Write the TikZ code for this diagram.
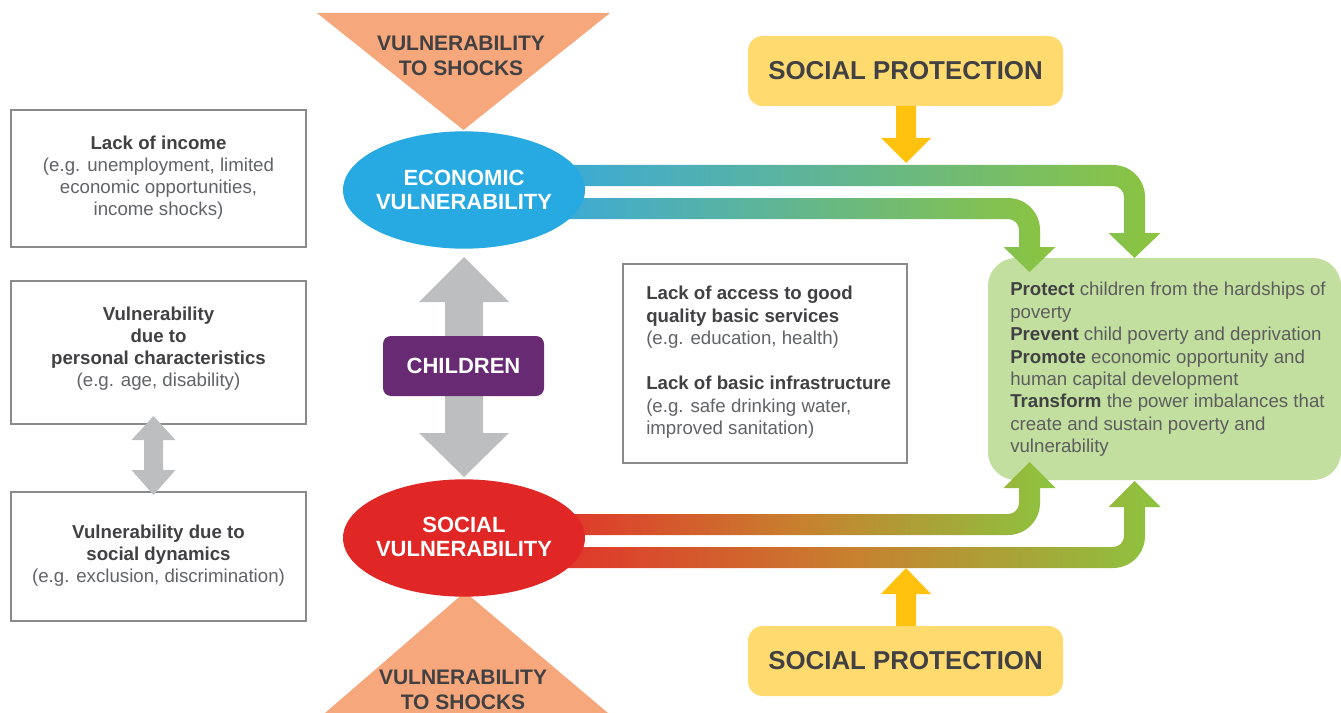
\documentclass[tikz,border=0pt]{standalone}
\usepackage{fontspec}
\setmainfont{Liberation Sans}
\usetikzlibrary{shapes.geometric}
\definecolor{trifill}{HTML}{F6A77B}
\definecolor{ecoblue}{HTML}{27AAE1}
\definecolor{socred}{HTML}{E12726}
\definecolor{childpurple}{HTML}{682A73}
\definecolor{arrowgray}{HTML}{BCBEC0}
\definecolor{spyellow}{HTML}{FFDA6F}
\definecolor{arrowyellow}{HTML}{FFC20E}
\definecolor{outgreen}{HTML}{C2DFA0}
\definecolor{bandgreen}{HTML}{8CC43F}
\definecolor{bandblue}{HTML}{3AA9DC}
\definecolor{bandred}{HTML}{E2302A}
\definecolor{bandorange}{HTML}{C8802F}
\definecolor{darktext}{HTML}{414042}
\definecolor{bodygray}{HTML}{626366}
\definecolor{boxgray}{HTML}{8A8A8A}
\begin{document}
\begin{tikzpicture}[x=0.75pt,y=-0.75pt,
  lbox/.style={draw=boxgray,line width=0.9pt,fill=white,minimum width=221.25pt,inner sep=0pt},
  bodytxt/.style={text=bodygray,font=\fontsize{14}{16.5}\selectfont,align=center,inner sep=0pt},
  titletxt/.style={text=darktext,font=\fontsize{15.75}{18.4}\selectfont\bfseries,align=center,inner sep=0pt},
  elltxt/.style={text=white,font=\fontsize{16.5}{18}\selectfont\bfseries,align=center,inner sep=0pt},
  ell/.style={ellipse,minimum width=181.5pt,minimum height=88pt,inner sep=0pt},
  spbox/.style={fill=spyellow,rounded corners=11pt,minimum width=236.25pt,minimum height=52.5pt,inner sep=0pt,text=darktext,font=\fontsize{19.4}{22}\selectfont\bfseries},
  grayarrow/.style={fill=arrowgray},
  yarrow/.style={fill=arrowyellow},
  bluegrad/.style={left color=bandblue,right color=bandgreen},
  redgrad/.style={left color=bandred,right color=bandgreen,middle color=bandorange},
]
\useasboundingbox (0,0) rectangle (1341,713);

% outcome box
\node[fill=outgreen,rounded corners=21pt,minimum width=264.75pt,minimum height=166.5pt,inner sep=0pt] (outcomes) at (1164.5,369) {};

% triangles
\fill[trifill] (317,13) -- (610,13) -- (463.5,130) -- cycle;
\fill[trifill] (465,592) -- (608,713) -- (325,713) -- cycle;

% gradient bands (top)
\shade[bluegrad] (540,165) -- (1113,165) .. controls (1130.7,165) and (1145,179.3) .. (1145,197) -- (1145,233) -- (1160.5,233) -- (1134.5,258) -- (1108.5,233) -- (1124,233) -- (1124,197) .. controls (1124,190.9) and (1119.1,186) .. (1113,186) -- (540,186) -- cycle;
\shade[bluegrad] (540,198) -- (1008,198) .. controls (1025.7,198) and (1040,212.3) .. (1040,230) -- (1040,247) -- (1055.5,247) -- (1029.5,272) -- (1003.5,247) -- (1019,247) -- (1019,230) .. controls (1019,223.9) and (1014.1,219) .. (1008,219) -- (540,219) -- cycle;
% gradient bands (bottom)
\shade[redgrad] (540,535) -- (1008,535) .. controls (1025.7,535) and (1040,520.7) .. (1040,503) -- (1040,488) -- (1055.5,488) -- (1029.5,462) -- (1003.5,488) -- (1019,488) -- (1019,503) .. controls (1019,509.1) and (1014.1,514) .. (1008,514) -- (540,514) -- cycle;
\shade[redgrad] (540,568) -- (1113,568) .. controls (1130.7,568) and (1145,553.7) .. (1145,536) -- (1145,507) -- (1160.5,507) -- (1134.5,481) -- (1108.5,507) -- (1124,507) -- (1124,536) .. controls (1124,542.1) and (1119.1,547) .. (1113,547) -- (540,547) -- cycle;

% triangle texts
\node[titletxt] (shocktop) at (461,56) {VULNERABILITY\\TO SHOCKS};
\node[titletxt] (shockbot) at (463,690) {VULNERABILITY\\TO SHOCKS};

% ellipses
\node[ell,fill=ecoblue] (eco) at (464,190) {};
\node[elltxt] (ecotxt) at (464,190) {ECONOMIC\\VULNERABILITY};
\node[ell,fill=socred] (soc) at (464,538) {};
\node[elltxt] (soctxt) at (464,537) {SOCIAL\\VULNERABILITY};

% central gray double arrow
\fill[grayarrow] (464,257) -- (509,302) -- (483,302) -- (483,433) -- (509,433) -- (464,477) -- (419,433) -- (445,433) -- (445,302) -- (419,302) -- cycle;
\node[fill=childpurple,rounded corners=6pt,minimum width=120.75pt,minimum height=45pt,inner sep=0pt,text=white,font=\fontsize{16.5}{18}\selectfont\bfseries] (children) at (463.5,366) {CHILDREN};

% left boxes
\node[lbox,minimum height=102.75pt] (income) at (158.5,178.5) {};
\node[bodytxt] (incometxt) at (158.5,178) {\textbf{\color{darktext}Lack of income}\\(e.g. unemployment, limited\\economic opportunities,\\income shocks)};
\node[lbox,minimum height=107.25pt] (personal) at (158.5,352.5) {};
\node[lbox,minimum height=96.75pt] (socdyn) at (158.5,556.5) {};
\fill[grayarrow] (153.5,416) -- (175.5,440) -- (163,440) -- (163,470) -- (175.5,470) -- (153.5,495) -- (131.5,470) -- (144,470) -- (144,440) -- (131.5,440) -- cycle;
\node[bodytxt] (personaltxt) at (158.5,349) {\textbf{\color{darktext}Vulnerability}\\\textbf{\color{darktext}due to}\\\textbf{\color{darktext}personal characteristics}\\(e.g. age, disability)};
\node[bodytxt] (socdyntxt) at (158.5,555.5) {\textbf{\color{darktext}Vulnerability due to}\\\textbf{\color{darktext}social dynamics}\\(e.g. exclusion, discrimination)};

% centre box
\node[draw=boxgray,line width=0.9pt,fill=white,minimum width=213pt,minimum height=149.25pt,inner sep=0pt] (services) at (765,363.5) {};
\node[bodytxt,align=left,anchor=west,font=\fontsize{14}{16.9}\selectfont] (servicestxt) at (646,362.5) {\textbf{\color{darktext}Lack of access to good}\\\textbf{\color{darktext}quality basic services}\\(e.g. education, health)\\[16.9pt]\textbf{\color{darktext}Lack of basic infrastructure}\\(e.g. safe drinking water,\\improved sanitation)};

% outcomes text
\node[bodytxt,align=left,anchor=west,text=darktext!85,font=\fontsize{14}{16.8}\selectfont] (outcomestxt) at (1010,369.5) {\textbf{\color{darktext}Protect} children from the hardships of\\poverty\\\textbf{\color{darktext}Prevent} child poverty and deprivation\\\textbf{\color{darktext}Promote} economic opportunity and\\human capital development\\\textbf{\color{darktext}Transform} the power imbalances that\\create and sustain poverty and\\vulnerability};

% social protection
\node[spbox] (sptop) at (905.5,71) {SOCIAL PROTECTION};
\node[spbox] (spbot) at (905.5,661) {SOCIAL PROTECTION};
\fill[yarrow] (896,106) -- (916,106) -- (916,138) -- (931,138) -- (906,163) -- (881,138) -- (896,138) -- cycle;
\fill[yarrow] (896,626) -- (916,626) -- (916,594) -- (931,594) -- (906,568) -- (881,594) -- (896,594) -- cycle;
\end{tikzpicture}
\end{document}
